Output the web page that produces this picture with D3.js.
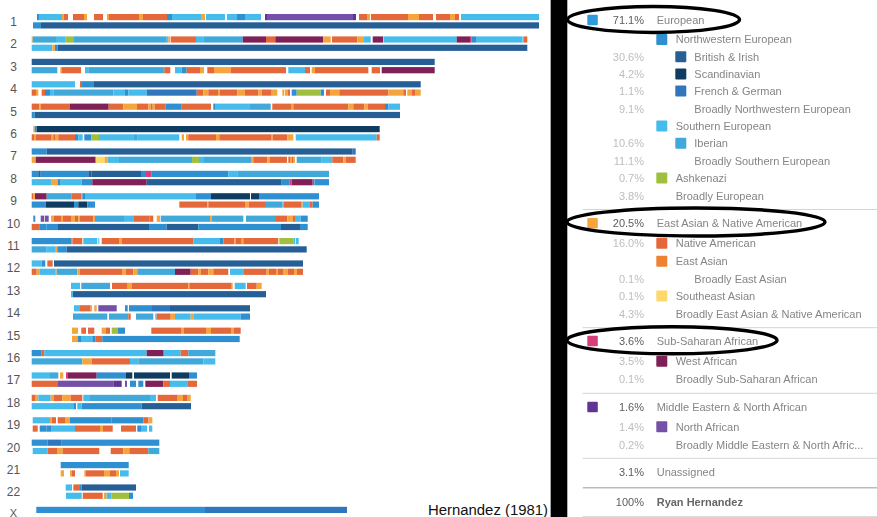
<!DOCTYPE html>
<html><head><meta charset="utf-8">
<script src="https://cdn.jsdelivr.net/npm/d3@7"></script>
<style>html,body{margin:0;padding:0;background:#fff;overflow:hidden}svg{display:block}</style>
</head><body><svg id="c" width="877" height="517"></svg>
<script>
// Ancestry colours
const ancestryColors = {B:"#265f96",Sc:"#113c62",F:"#2f76bd",NW:"#2e90d0",S:"#46bced",I:"#40a9d9",A:"#a0bf3e",
 N:"#e5683a",E:"#ef8133",O:"#f5a53b",Y:"#fdd86b",W:"#7f2156",P:"#d63f7a",Na:"#7550a8",Me:"#5f3492"};
const chromosomes = ["1","2","3","4","5","6","7","8","9","10","11","12","13","14","15","16","17","18","19","20","21","22","X"];
// Painted segments per chromosome copy: [start, end, ancestry], in genome units of about half a megabase
const chr1a=[[6,8,"NW"],[8,31,"S"],[31,33,"O"],[33,37,"N"],[42,53,"N"],[53,56,"O"],[63,72,"N"],[76,78,"O"],[78,108,"N"],[108,112,"O"],[112,136,"N"],[136,141,"NW"],[141,170,"S"],[170,174,"O"],[175,194,"S"],[196,206,"S"],[206,214,"NW"],[214,230,"S"],[234,236,"Me"],[236,322,"Na"],[322,325,"Me"],[328,336,"N"],[336,339,"O"],[340,377,"N"],[377,388,"O"],[388,402,"N"],[405,419,"N"],[419,424,"O"],[424,428,"N"],[430,508,"S"]];
const chr1b=[[2,10,"NW"],[10,508,"B"]];
const chr2a=[[0.7,1.7,"O"],[1.7,25,"I"],[25,34.7,"S"],[34.7,43,"A"],[43,135.7,"I"],[135.7,137.3,"S"],[137.3,139,"O"],[139.7,165,"N"],[165,172.3,"S"],[172.3,211.7,"I"],[211.7,235,"W"],[235,244.3,"N"],[244.3,292.3,"W"],[292.3,299.7,"O"],[301,326.3,"N"],[326.3,332.3,"O"],[332.3,339.7,"S"],[341.7,352.3,"W"],[353,425.7,"S"],[425.7,439,"W"],[439,440.7,"P"],[440.7,445.7,"NW"],[445.7,491.7,"S"],[492.3,496.3,"N"]];
const chr2b=[[0.7,21.3,"S"],[21.3,24,"O"],[24,26.7,"NW"],[26.7,496.3,"B"]];
const chr3a=[[0.7,403.7,"B"]];
const chr3b=[[0.7,26.3,"I"],[29.3,31,"O"],[31,50,"N"],[54,57.3,"S"],[57.3,132.3,"I"],[132.3,133.3,"NW"],[133.3,139.3,"N"],[144,150.7,"S"],[150.7,155.7,"NW"],[155.7,169,"N"],[169,173,"O"],[176.3,183,"N"],[183,199.7,"O"],[199.7,255,"N"],[257.3,274,"S"],[274,279,"N"],[280.7,284,"O"],[284,337.3,"N"],[340.7,349,"N"],[350.7,403.7,"W"]];
const chr4a=[[0.7,44,"S"],[49,51,"N"],[51,63,"NW"],[63,389.7,"B"]];
const chr4b=[[0.7,5,"N"],[5,7.3,"O"],[10.7,14,"N"],[14,19,"NW"],[19,22.3,"S"],[22.3,82.3,"I"],[82.3,94,"S"],[94,97.3,"NW"],[97.3,115.7,"S"],[115.7,165.7,"F"],[165.7,172.3,"N"],[172.3,177.3,"O"],[177.3,187,"N"],[187,189,"O"],[189,206.3,"N"],[206.3,214,"O"],[214,227.3,"N"],[227.3,230.7,"O"],[230.7,240.7,"N"],[240.7,246.3,"O"],[251.3,253.3,"O"],[254,257,"O"],[257,259,"N"],[260.7,265.7,"NW"],[265.7,289.7,"A"],[289.7,293,"NW"],[295,299,"N"],[299,308.3,"O"],[308.3,357.3,"N"],[357.3,372.3,"O"],[372.3,375,"N"],[376.3,380.7,"O"],[380.7,384,"N"],[384,389.7,"O"]];
const chr5a=[[0.7,8.3,"N"],[8.3,10,"O"],[10,39,"N"],[39,77.7,"W"],[77.7,92.3,"N"],[92.3,106,"O"],[106,117.3,"N"],[117.3,119.7,"O"],[119.7,121.7,"N"],[121.7,124,"O"],[124,134.7,"N"],[134.7,150.7,"NW"],[150.7,180,"N"],[182.3,184,"NW"],[184,219,"S"],[219,239.7,"I"],[241.3,260.7,"N"],[260.7,262.3,"O"],[262.3,317.3,"N"],[317.3,322.3,"O"],[322.3,333.3,"N"],[333.3,336.7,"O"],[336.7,354,"N"],[354,357.3,"NW"],[357.3,369,"S"]];
const chr5b=[[0.7,3.7,"NW"],[3.7,369,"B"]];
const chr6a=[[2.3,3.7,"O"],[3.7,5.7,"NW"],[5.7,348.7,"Sc"]];
const chr6b=[[0.7,3,"N"],[3,4.5,"O"],[4.5,20.7,"N"],[20.7,22.3,"O"],[22.3,24,"N"],[24,27.3,"O"],[27.3,44,"N"],[44,47.3,"NW"],[47.3,51.7,"S"],[53.3,60.3,"NW"],[60.3,68,"A"],[68,102.3,"S"],[102.3,106.7,"I"],[106.7,148.3,"S"],[150.7,153,"O"],[155,157.3,"O"],[157.3,185,"N"],[185,188.3,"O"],[188.3,240,"N"],[240,241.7,"O"],[241.7,256.3,"N"],[256.3,262.3,"O"],[264.7,345.7,"S"],[345.7,348.7,"N"]];
const chr7a=[[0.7,15.7,"NW"],[15.7,321.7,"B"],[321.7,324.7,"F"]];
const chr7b=[[0.7,4.7,"O"],[4.7,64.7,"W"],[64.7,73.7,"Y"],[73.7,76.7,"O"],[76.7,88,"S"],[88,161,"I"],[161,168,"A"],[168,173,"S"],[173,220.7,"I"],[220.7,222.3,"O"],[222.3,236.3,"N"],[236.3,239,"O"],[239,256,"N"],[257.3,259,"N"],[259,261,"O"],[261,262,"N"],[262,264,"O"],[265.7,290.7,"I"],[290.7,301.3,"S"],[301.3,312.3,"N"],[312.3,315,"O"],[315,324.7,"N"]];
const chr8a=[[0.7,7.3,"NW"],[7.3,9.7,"B"],[9.7,57.3,"NW"],[57.3,60.7,"B"],[60.7,110,"B"],[110,115,"NW"],[115,120.7,"P"],[120.7,197.3,"NW"],[197.3,206.3,"S"],[206.3,298,"I"]];
const chr8b=[[0.7,20.7,"S"],[20.7,26.7,"O"],[26.7,29.7,"NW"],[29.7,50.7,"S"],[50.7,61.3,"NW"],[61.3,115.7,"W"],[115.7,179,"B"],[179,250.7,"B"],[250.7,258.3,"NW"],[258.3,260.7,"P"],[260.7,281.7,"W"],[282,283,"P"],[283.3,298,"NW"]];
const chr9a=[[0.7,2.5,"N"],[2.5,4,"O"],[4,15.7,"W"],[15.7,40.7,"I"],[40.7,50,"N"],[50,51.3,"O"],[51.3,54,"NW"],[54,165,"S"],[165,180,"NW"],[180,219,"Sc"],[220,228,"Sc"],[228,288,"NW"]];
const chr9b=[[0.7,14.7,"NW"],[14.7,43,"Sc"],[43,47.3,"NW"],[47.3,56.3,"Sc"],[56.3,64,"NW"],[148,149,"O"],[149,176.3,"N"],[176.3,177.3,"O"],[177.3,214,"N"],[214,217.7,"O"],[217.7,234,"N"],[234,251.7,"I"],[252.3,270,"N"],[270,271.7,"O"],[271.7,278.3,"S"],[278.3,281.7,"N"],[281.7,288,"NW"]];
const chr10a=[[2.3,4.3,"NW"],[9.7,13.3,"Na"],[14,17.7,"Na"],[20,23,"O"],[23,30,"N"],[30,32,"O"],[32,40,"N"],[40,44,"O"],[44,47.3,"N"],[47.3,49,"O"],[49,62.3,"N"],[62.3,64,"O"],[64,93,"I"],[93,102.3,"S"],[102.3,118.3,"N"],[118.3,122.3,"N"],[125.7,129,"O"],[129.7,179,"I"],[179,180.7,"O"],[180.7,212.3,"I"],[215,245,"I"],[245,256.3,"N"],[256.3,261.7,"O"],[261.7,264,"N"],[264,269.7,"S"],[269.7,276.7,"NW"]];
const chr10b=[[0.7,8.3,"N"],[8.3,15.7,"NW"],[15.7,26.3,"NW"],[26.3,118,"B"],[118,135.7,"NW"],[135.7,167.3,"B"],[167.3,250,"NW"],[250,269,"B"],[269,276.7,"NW"]];
const chr11a=[[0.7,40.7,"NW"],[41.3,51.3,"N"],[52.3,66.3,"S"],[67.3,68.3,"S"],[70.7,88,"N"],[88,90.7,"O"],[90.7,162.3,"N"],[162.3,189,"S"],[189,192.3,"NW"],[192.3,203.3,"N"],[203.3,205,"O"],[205,210.7,"N"],[210.7,212.3,"O"],[212.3,247.3,"N"],[248.3,262.3,"A"],[262.3,264,"S"],[264.7,267.7,"S"]];
const chr11b=[[0.7,15.7,"I"],[15.7,24,"S"],[24,26.3,"O"],[26.3,35.7,"NW"],[35.7,40,"B"],[40,275.7,"B"]];
const chr12a=[[0.7,10.7,"S"],[10.7,14.3,"NW"],[16.3,21.7,"N"],[23,272,"B"]];
const chr12b=[[0.7,5.7,"N"],[5.7,8.3,"O"],[8.3,24,"S"],[24,25.7,"O"],[25.7,46.3,"I"],[46.3,49,"O"],[49,91.7,"N"],[91.7,95,"O"],[95,102.3,"N"],[102.3,106.3,"O"],[106.3,144,"I"],[144,159.7,"W"],[159.7,167.3,"N"],[167.3,170,"O"],[170,177.3,"N"],[177.3,182.3,"O"],[182.3,197.3,"N"],[199,212.3,"S"],[212.3,235.7,"N"],[235.7,238,"O"],[238,245,"N"],[245,247,"O"],[247,252,"N"],[252,257,"O"],[257,263,"N"],[263,266,"O"],[266,272,"N"]];
const chr13a=[[40,49,"S"],[50.3,79,"I"],[81,96.7,"N"],[96.7,100.7,"O"],[100.7,157.3,"N"],[157.3,158.3,"O"],[158.3,200.7,"N"],[200.7,201.7,"O"],[203.7,214.7,"S"],[216,225.7,"N"],[225.7,230.7,"O"]];
const chr13b=[[40,42,"S"],[42,235,"B"]];
const chr14a=[[43,49,"S"],[49,59.7,"N"],[59.7,61,"O"],[63.3,65.7,"O"],[67.3,85.7,"Na"],[94,96.7,"NW"],[98,121,"NW"],[121,139,"F"],[139,219,"B"]];
const chr14b=[[42,76.3,"I"],[78,97.3,"I"],[97.3,99.7,"N"],[105,122.3,"I"],[124.3,125.7,"S"],[125.7,139.7,"N"],[139.7,144,"O"],[144,159.7,"S"],[159.7,162.3,"O"],[162.3,209.7,"S"],[209.7,219,"NW"]];
const chr15a=[[41,47,"O"],[50.3,55,"N"],[57,63.3,"N"],[70.7,75,"O"],[75,79,"N"],[80.7,86.7,"A"],[86.7,94,"NW"],[120.3,150,"N"],[150,153,"O"],[153,175,"N"],[175,180,"O"],[180,200,"N"],[200,203,"O"],[203,209.7,"N"]];
const chr15b=[[41,46.7,"O"],[46.7,50,"NW"],[50,61.3,"S"],[61.3,64.3,"NW"],[64.3,71.3,"N"],[71.3,208.7,"NW"]];
const chr16a=[[0.7,10.7,"NW"],[10.7,13.3,"N"],[13.3,115.7,"S"],[115.7,132.7,"W"],[132.7,149.7,"S"],[149.7,157.3,"N"],[157.3,184.3,"I"]];
const chr16b=[[0.7,51.3,"I"],[51.3,60.7,"O"],[60.7,99,"N"],[99,107.3,"S"],[107.3,172.3,"I"],[172.3,184.3,"S"]];
const chr17a=[[0.7,19,"S"],[19,27.3,"I"],[29,32.3,"O"],[35,36.3,"P"],[36.3,65.7,"W"],[65.7,95,"NW"],[95,101.3,"Sc"],[103,139,"Sc"],[140.7,158,"Sc"],[158,166,"NW"]];
const chr17b=[[0.7,27,"N"],[27,82.3,"Na"],[82.3,90.7,"Me"],[94,96,"Na"],[99,105,"NW"],[107.3,112.3,"NW"],[114.3,132.3,"W"],[132.3,139,"N"],[139,156.3,"S"],[156.3,166,"N"]];
const chr18a=[[0.7,4,"N"],[4,7.3,"O"],[7.3,19.7,"S"],[19.7,23,"O"],[23,31.3,"N"],[31.3,39.7,"O"],[39.7,51.3,"N"],[52.3,59,"S"],[59,119,"I"],[119,125,"S"],[126.7,134,"N"],[134,146.7,"N"],[146.7,152,"O"],[152,156,"N"],[156,159.7,"O"]];
const chr18b=[[0.7,43,"S"],[43,45,"NW"],[46.3,50.7,"S"],[50.7,110.7,"NW"],[110.7,160,"B"]];
const chr19a=[[1.7,19,"S"],[19,20.7,"O"],[20.7,25,"N"],[26.7,34,"N"],[34,39,"O"],[39,80.7,"NW"],[80.7,112.3,"NW"],[112.3,117.3,"N"],[117.3,121.3,"O"]];
const chr19b=[[1.7,6.7,"N"],[8.7,15.7,"NW"],[15.7,20.7,"NW"],[20.7,44,"S"],[44,69,"N"],[69,72,"O"],[72,81.7,"N"],[90,105,"N"],[106.3,110.7,"NW"],[110.7,116,"S"],[118,121.3,"S"]];
const chr20a=[[0.7,16.7,"NW"],[16.7,30.7,"F"],[30.7,128.3,"NW"]];
const chr20b=[[1.7,16.7,"S"],[16.7,26.7,"N"],[26.7,31.7,"O"],[31.7,68.3,"N"],[79.7,92.3,"N"],[92.3,98.3,"O"],[98.3,117.3,"N"],[117.3,128.3,"I"]];
const chr21a=[[29.7,97.7,"NW"]];
const chr21b=[[29.7,33,"O"],[39,41,"O"],[41,44,"N"],[53.3,55,"O"],[55,73,"N"],[73,79,"O"],[79,85,"N"],[85,88,"O"],[89,97.7,"S"]];
const chr22a=[[34.7,41,"S"],[42.3,49,"N"],[49,50.7,"NW"],[50.7,105,"B"]];
const chr22b=[[35,50.7,"S"],[51.7,71.7,"N"],[73,75.7,"O"],[75.7,80.7,"S"],[80.7,98,"A"],[98,102,"NW"]];
const chrXa=[[5.3,174,"NW"],[174,316,"F"]];
const chromosomeRows=[[chr1a,chr1b],[chr2a,chr2b],[chr3a,chr3b],[chr4a,chr4b],[chr5a,chr5b],[chr6a,chr6b],[chr7a,chr7b],[chr8a,chr8b],[chr9a,chr9b],[chr10a,chr10b],[chr11a,chr11b],[chr12a,chr12b],[chr13a,chr13b],[chr14a,chr14b],[chr15a,chr15b],[chr16a,chr16b],[chr17a,chr17b],[chr18a,chr18b],[chr19a,chr19b],[chr20a,chr20b],[chr21a,chr21b],[chr22a,chr22b],[chrXa]];
// Composition table
const legendLabels=["European","Northwestern European","British & Irish","Scandinavian","French & German","Broadly Northwestern European","Southern European","Iberian","Broadly Southern European","Ashkenazi","Broadly European","East Asian & Native American","Native American","East Asian","Broadly East Asian","Southeast Asian","Broadly East Asian & Native American","Sub-Saharan African","West African","Broadly Sub-Saharan African","Middle Eastern & North African","North African","Broadly Middle Eastern & North Afric...","Unassigned","Ryan Hernandez"];
const legendValues=["71.1%","","30.6%","4.2%","1.1%","9.1%","","10.6%","11.1%","0.7%","3.8%","20.5%","16.0%","","0.1%","0.1%","4.3%","3.6%","3.5%","0.1%","1.6%","1.4%","0.2%","3.1%","100%"];
const legendDepth=[0,1,2,2,2,2,1,2,2,1,1,0,1,1,2,1,1,0,1,1,0,1,1,0,0];
const legendSwatches=["#2e9bdc","#2e90d0","#265f96","#113c62","#2f76bd",null,"#46bced","#40a9d9",null,"#a0bf3e",null,"#f5a53b","#e5683a","#ef8133",null,"#fdd86b",null,"#d63f7a","#7f2156",null,"#5f3492","#7550a8",null,null,null];
const legendRowY=[20,39.5,56.7,74,91,108.7,126,143.3,160.7,178,195.7,223.3,243.3,261.3,278.7,296,314,341,361.3,379.3,407,426.7,444.7,472.3,502.3];
const dividerY=[209.5,327.7,393.3,458.3,487.7,516.7];
const highlights=[[653.5,19.5,86,13],[696,222,129,14],[672,340.3,105,13.5]];

const svg=d3.select("#c");
const font='"Liberation Sans",Arial,sans-serif';
const x=d3.scaleLinear().domain([0,509]).range([31,540]);
const y=d3.scaleBand().domain(chromosomes).range([10.6,525.8]);
const rowH=6.2, rowGap=8.3, rowTop=3.4;
const chart=svg.append("g").style("filter","blur(0.45px)");
const color=k=>ancestryColors[k];
chromosomes.forEach((c,i)=>{
  chromosomeRows[i].forEach((segs,r)=>{
    chart.append("g").selectAll("rect").data(segs).join("rect")
      .attr("x",d=>x(d[0])).attr("width",d=>x(d[1])-x(d[0]))
      .attr("y",y(c)+rowTop+r*rowGap).attr("height",rowH)
      .attr("fill",d=>color(d[2]));
  });
});
svg.append("g").selectAll("text").data(chromosomes).join("text")
  .attr("x",13.5).attr("y",d=>d==="X"?516.5:y(d)+rowTop+8.3+3.6)
  .attr("text-anchor","middle").attr("font-family",font).attr("font-size",d=>d==="X"?11:12).attr("fill","#555").text(d=>d);
svg.append("rect").attr("x",550.6).attr("y",0).attr("width",16.7).attr("height",517).attr("fill","#000");
svg.append("rect").attr("x",550).attr("y",0).attr("width",0.8).attr("height",517).attr("fill","#aaa");
svg.append("text").attr("x",428).attr("y",515).attr("font-family",font).attr("font-size",14.9).attr("fill","#111").text("Hernandez (1981)");
// table
const t=svg.append("g").style("filter","blur(0.3px)");
t.selectAll("line").data(dividerY).join("line").attr("x1",582.7).attr("x2",877).attr("y1",d=>d).attr("y2",d=>d)
  .attr("stroke",(d,i)=>i==4?"#bbb":"#d4d4d4").attr("stroke-width",(d,i)=>i==4?1.5:1);
const rows=legendLabels.map((l,i)=>({l,v:legendValues[i],dp:legendDepth[i],sw:legendSwatches[i],yy:legendRowY[i]}));
const swX=[587.3,656.3,675.3], txX=[656.7,675.7,694.3], swS=[10.5,11,11];
t.selectAll("rect.s").data(rows.filter(r=>r.sw)).join("rect").attr("class","s")
  .attr("x",d=>swX[d.dp]).attr("y",d=>d.yy-swS[d.dp]/2).attr("width",d=>swS[d.dp]).attr("height",d=>swS[d.dp]).attr("rx",1).attr("fill",d=>d.sw);
t.selectAll("text.v").data(rows).join("text").attr("class","v")
  .attr("x",644).attr("y",d=>d.yy+3.8).attr("text-anchor","end").attr("font-family",font).attr("font-size",11)
  .attr("fill",d=>d.dp==0?"#5c5c5c":"#bdbdbd").text(d=>d.v);
t.selectAll("text.l").data(rows).join("text").attr("class","l")
  .attr("x",d=>txX[d.dp]).attr("y",d=>d.yy+3.8).attr("font-family",font).attr("font-size",11)
  .attr("font-weight",d=>d.l==="Ryan Hernandez"?"bold":"normal")
  .attr("fill",d=>d.l==="Ryan Hernandez"?"#666":"#858585").text(d=>d.l);
svg.append("g").selectAll("ellipse").data(highlights).join("ellipse")
  .attr("cx",d=>d[0]).attr("cy",d=>d[1]).attr("rx",d=>d[2]).attr("ry",d=>d[3])
  .attr("fill","none").attr("stroke","#000").attr("stroke-width",3.4);
</script></body></html>
